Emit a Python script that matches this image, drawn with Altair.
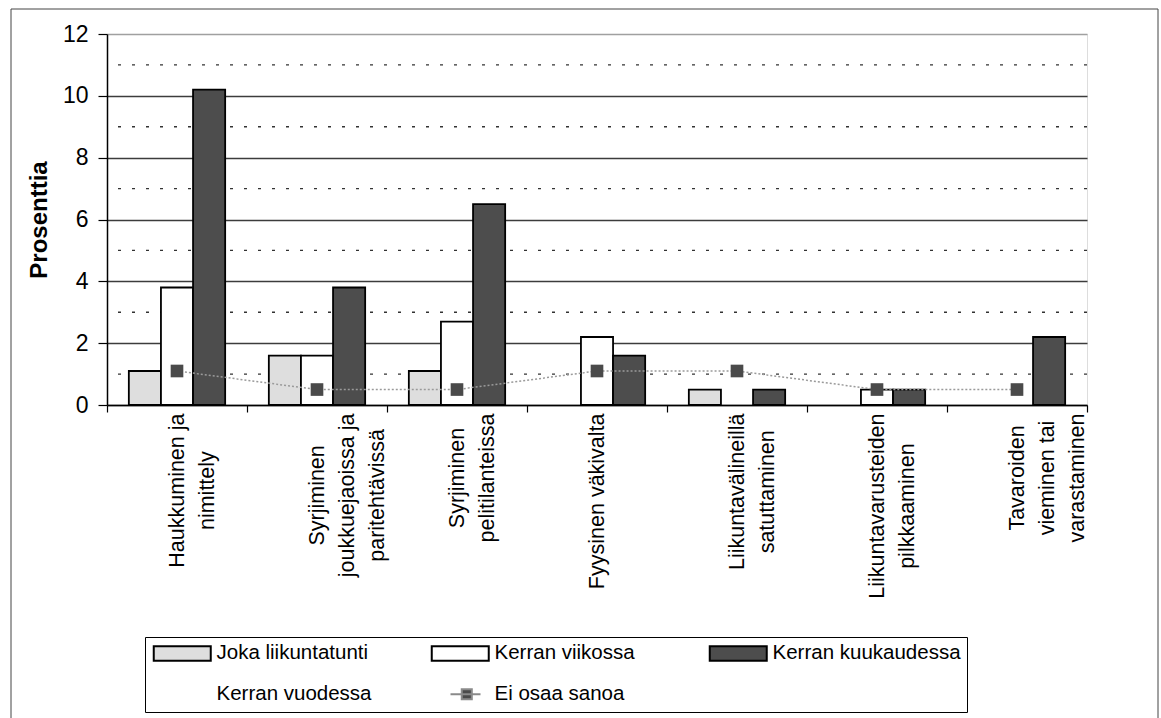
import altair as alt
import pandas as pd

# Categories, each given as the lines of its wrapped axis label
kategoriat = [
    ["Haukkuminen ja", "nimittely"],
    ["Syrjiminen", "joukkuejaoissa ja", "paritehtävissä"],
    ["Syrjiminen", "pelitilanteissa"],
    ["Fyysinen väkivalta"],
    ["Liikuntavälineillä", "satuttaminen"],
    ["Liikuntavarusteiden", "pilkkaaminen"],
    ["Tavaroiden", "vieminen tai", "varastaminen"],
]

# Percentages per series (None = no bar)
joka_liikuntatunti = [1.1, 1.6, 1.1, None, 0.5, None, None]
kerran_viikossa = [3.8, 1.6, 2.7, 2.2, None, 0.5, None]
kerran_kuukaudessa = [10.2, 3.8, 6.5, 1.6, 0.5, 0.5, 2.2]
ei_osaa_sanoa = [1.1, 0.5, 0.5, 1.1, 1.1, 0.5, 0.5]

sarjat = ["Joka liikuntatunti", "Kerran viikossa", "Kerran kuukaudessa",
          "Kerran vuodessa", "Ei osaa sanoa"]
sarja_varit = ["#dedede", "#ffffff", "#4d4d4d", "#ffffff", "#4a4a4a"]
sarja_reunat = ["#000000", "#000000", "#000000", "transparent", "#8a8a8a"]

y_ticks = [0, 2, 4, 6, 8, 10, 12]
y_minor = [1, 3, 5, 7, 9, 11]

FONT = "Liberation Sans"
X_LABEL_SIZE = 21.5

nimet = [" ".join(rivit) for rivit in kategoriat]

rows = []
for sarja, arvot in zip(sarjat[:3], [joka_liikuntatunti, kerran_viikossa, kerran_kuukaudessa]):
    for nimi, arvo in zip(nimet, arvot):
        if arvo is not None:
            rows.append({"kategoria": nimi, "sarja": sarja, "arvo": arvo})
palkit = pd.DataFrame(rows)
viiva = pd.DataFrame({"kategoria": nimet, "sarja": "Ei osaa sanoa", "arvo": ei_osaa_sanoa})
apuviivat = pd.DataFrame({"arvo": y_minor})
selite_pohja = pd.DataFrame({"sarja": pd.Series([], dtype=str)})

# Approximate Helvetica/Arial advance widths (per 1000 em) for label sizing
LEVEYS = {" ": 278, "a": 556, "b": 556, "c": 500, "d": 556, "e": 556, "f": 278, "g": 556,
          "h": 556, "i": 222, "j": 222, "k": 500, "l": 222, "m": 833, "n": 556, "o": 556,
          "p": 556, "q": 556, "r": 333, "s": 500, "t": 278, "u": 556, "v": 500, "w": 722,
          "x": 500, "y": 500, "z": 500, "ä": 556, "ö": 556, "H": 722, "S": 667, "F": 611,
          "L": 556, "T": 611}


def tekstin_leveys(teksti, koko):
    return sum(LEVEYS.get(c, 556) for c in teksti) * koko / 1000.0


# Multi-line labels, and padding so the longest line starts right under the ticks
label_expr = "".join(
    "datum.label == '%s' ? [%s] : " % (n, ", ".join("'%s'" % r for r in rivit))
    for n, rivit in zip(nimet, kategoriat)
) + "datum.label"
label_pad = {
    "condition": [
        {"test": "datum.value == '%s'" % n,
         "value": round(1 + max(tekstin_leveys(r, X_LABEL_SIZE) for r in rivit) / 2, 1)}
        for n, rivit in zip(nimet, kategoriat)
    ],
    "value": 1,
}

x_enc = alt.X(
    "kategoria:N", sort=nimet, title=None,
    scale=alt.Scale(paddingInner=0, paddingOuter=0),
    axis=alt.Axis(
        labelAngle=-90, labelAlign="center", labelBaseline="middle",
        labelExpr=label_expr, labelLineHeight=30, labelFontSize=X_LABEL_SIZE,
        labelFont=FONT, labelColor="#000", labelLimit=400, labelOverlap=False,
        labelPadding=label_pad, tickBand="extent", tickSize=7, tickColor="#000",
        tickWidth=1.2, domainColor="#000", domainWidth=1.5, grid=False,
    ),
)
y_enc = alt.Y(
    "arvo:Q",
    scale=alt.Scale(domain=[0, 12], nice=False, zero=True),
    axis=alt.Axis(
        title="Prosenttia", titleFont=FONT, titleFontSize=24, titleFontWeight="bold",
        titleColor="#000", titlePadding=11, values=y_ticks, format="d",
        labelFont=FONT, labelFontSize=23, labelColor="#000", labelPadding=10,
        tickSize=9, tickColor="#000", tickWidth=1.2, domainColor="#000", domainWidth=1.5,
        grid=True, gridWidth=1.3,
        gridColor={"condition": {"test": "datum.value == 12", "value": "#a0a0a0"}, "value": "#3c3c3c"},
    ),
)

# Legend swatches: wide boxes for the bar series, dotted line with a marker for the line series
rect_path = "M-1,-0.97 L6.6,-0.97 L6.6,0.97 L-1,0.97 Z"
line_path = "M1.5,0 L5.5,0 M3,-0.67 L4.34,-0.67 L4.34,0.67 L3,0.67 Z"
sarja_muodot = [rect_path, rect_path, rect_path, rect_path, line_path]

legenda = alt.Legend(
    title=None, orient="none", legendX=38, legendY=603, direction="horizontal",
    columns=3, gridAlign="all", columnPadding=22, rowPadding=17, padding=6,
    strokeColor="#000", fillColor="#ffffff",
    labelFont=FONT, labelFontSize=20.5, labelColor="#000", labelOffset=45, labelLimit=400,
    symbolSize=225, symbolStrokeWidth=2, symbolOpacity=1,
)

fill_scale = alt.Scale(domain=sarjat, range=sarja_varit)
stroke_scale = alt.Scale(domain=sarjat, range=sarja_reunat)
shape_scale = alt.Scale(domain=sarjat, range=sarja_muodot)

# Outer chart frame
kehys = alt.Chart(alt.Data(values=[{}])).mark_rect(
    fillOpacity=0, stroke="#444", strokeWidth=1
).encode(x=alt.value(-96), x2=alt.value(1051), y=alt.value(-25), y2=alt.value(700))

# Legend carrier: no rows, only defines the shared series scales for the legend
selite = alt.Chart(selite_pohja).mark_point(filled=True, opacity=1).encode(
    fill=alt.Fill("sarja:N", scale=fill_scale, legend=legenda),
    stroke=alt.Stroke("sarja:N", scale=stroke_scale, legend=legenda),
    shape=alt.Shape("sarja:N", scale=shape_scale, legend=legenda),
)

pisteviivat = alt.Chart(apuviivat).mark_rule(
    color="#333", strokeWidth=1.3, strokeDash=[3, 11]
).encode(y=alt.Y("arvo:Q", scale=alt.Scale(domain=[0, 12], nice=False)))

pylvaat = alt.Chart(palkit).mark_bar(stroke="#000", strokeWidth=1.8).encode(
    x=x_enc,
    xOffset=alt.XOffset("sarja:N", scale=alt.Scale(domain=sarjat[:3], paddingOuter=0.68, paddingInner=0)),
    y=y_enc,
    fill=alt.Fill("sarja:N", scale=fill_scale, legend=legenda),
)

viivaosa = alt.Chart(viiva).mark_line(color="#9a9a9a", strokeWidth=1.5, strokeDash=[2, 2]).encode(
    x=alt.X("kategoria:N", sort=nimet),
    y=alt.Y("arvo:Q"),
)

pisteet = alt.Chart(viiva).mark_square(size=160, opacity=1, filled=True).encode(
    x=alt.X("kategoria:N", sort=nimet),
    y=alt.Y("arvo:Q"),
    fill=alt.Fill("sarja:N", scale=fill_scale, legend=legenda),
)

chart = alt.layer(selite, kehys, pisteviivat, pylvaat, viivaosa, pisteet).properties(
    width=980, height=371,
    autosize=alt.AutoSizeParams(type="none"),
    padding={"left": 107, "top": 34, "right": 74, "bottom": 313},
    background="#ffffff",
).configure_view(stroke="#999999", strokeWidth=1).configure(font=FONT)

chart.save("out.html", embed_options={"renderer": "svg", "actions": False})
